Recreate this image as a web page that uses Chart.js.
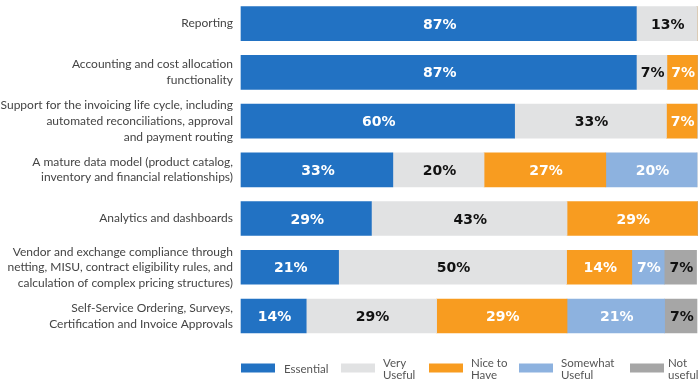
<!DOCTYPE html>
<html>
<head>
<meta charset="utf-8">
<script src="https://cdn.jsdelivr.net/npm/chart.js@4.4.1/dist/chart.umd.min.js"></script>
<style>
  html,body{margin:0;padding:0;background:#fff;}
  #wrap{width:700px;height:379px;position:relative;}
</style>
</head>
<body>
<div id="wrap"><canvas id="c" width="700" height="379"></canvas></div>
<script>
const categories = [
  ['Reporting'],
  ['Accounting and cost allocation', 'functionality'],
  ['Support for the invoicing life cycle, including', 'automated reconciliations, approval', 'and payment routing'],
  ['A mature data model (product catalog,', 'inventory and financial relationships)'],
  ['Analytics and dashboards'],
  ['Vendor and exchange compliance through', 'netting, MISU, contract eligibility rules, and', 'calculation of complex pricing structures)'],
  ['Self-Service Ordering, Surveys,', 'Certification and Invoice Approvals']
];

const seriesNames = [['Essential'], ['Very', 'Useful'], ['Nice to', 'Have'], ['Somewhat', 'Useful'], ['Not', 'useful']];

// percent of respondents, label shows rounded value
const essential      = [86.7, 86.7, 60.0, 33.3, 28.6, 21.4, 14.3];
const veryUseful     = [13.3,  6.7, 33.3, 20.0, 42.9, 50.0, 28.6];
const niceToHave     = [ 0,    6.7,  6.7, 26.7, 28.6, 14.3, 28.6];
const somewhatUseful = [ 0,    0,    0,   20.0,  0,    7.1, 21.4];
const notUseful      = [ 0,    0,    0,    0,    0,    7.1,  7.1];

const colors    = ['#2272c3', '#e1e2e3', '#f89c20', '#8db2df', '#a6a6a6'];
const textColor = ['#fff', '#111', '#fff', '#fff', '#111'];

const FONT = 'Lato, "Noto Sans", sans-serif';

const valueLabels = {
  id: 'valueLabels',
  afterDatasetsDraw(chart){
    const c = chart.ctx;
    c.save();
    c.font = 'bold 14px "DejaVu Sans", sans-serif';
    c.textAlign = 'center';
    c.textBaseline = 'middle';
    chart.data.datasets.forEach((ds, di) => {
      const meta = chart.getDatasetMeta(di);
      meta.data.forEach((bar, i) => {
        const v = ds.data[i];
        if(!v) return;
        c.fillStyle = textColor[di];
        c.fillText(Math.round(v) + '%', (bar.x + bar.base) / 2 + 1, bar.y + 1.5);
      });
    });
    c.restore();
  }
};

// legend below the bars, two-line labels like the original
const bottomLegend = {
  id: 'bottomLegend',
  afterDraw(chart){
    const c = chart.ctx;
    const boxX = [241, 341, 429, 519, 630];
    const txtX = [284, 383, 471, 561, 668];
    const y = 368;
    c.save();
    c.font = '11.5px ' + FONT;
    c.textBaseline = 'middle';
    c.textAlign = 'left';
    seriesNames.forEach((lines, i) => {
      c.fillStyle = colors[i];
      c.fillRect(boxX[i], y - 4.5, 34, 9);
      c.fillStyle = '#555';
      if(lines.length === 1){
        c.fillText(lines[0], txtX[i], y + 1);
      }else{
        c.fillText(lines[0], txtX[i], y - 5);
        c.fillText(lines[1], txtX[i], y + 7);
      }
    });
    c.restore();
  }
};

const mk = (label, data, i) => ({
  label: label.join(' '), data,
  backgroundColor: colors[i],
  borderWidth: 0,
  barThickness: 34,
  clip: false
});

new Chart(document.getElementById('c'), {
  type: 'bar',
  data: {
    labels: categories,
    datasets: [
      mk(seriesNames[0], essential, 0),
      mk(seriesNames[1], veryUseful, 1),
      mk(seriesNames[2], niceToHave, 2),
      mk(seriesNames[3], somewhatUseful, 3),
      mk(seriesNames[4], notUseful, 4)
    ]
  },
  options: {
    indexAxis: 'y',
    responsive: false,
    animation: false,
    layout: { padding: { top: 19, bottom: 63, right: 3, left: 0 } },
    scales: {
      x: { stacked: true, min: 0, max: 100, display: false },
      y: {
        stacked: true,
        offset: false,
        border: { display: false },
        grid: { display: false, drawTicks: false },
        ticks: { color: '#444', padding: 8, autoSkip: false, font: { family: FONT, size: 12, lineHeight: 1.3 } },
        afterFit(scale){ scale.width = 241; }
      }
    },
    plugins: { legend: { display: false }, tooltip: { enabled: false } }
  },
  plugins: [valueLabels, bottomLegend]
});
</script>
</body>
</html>
